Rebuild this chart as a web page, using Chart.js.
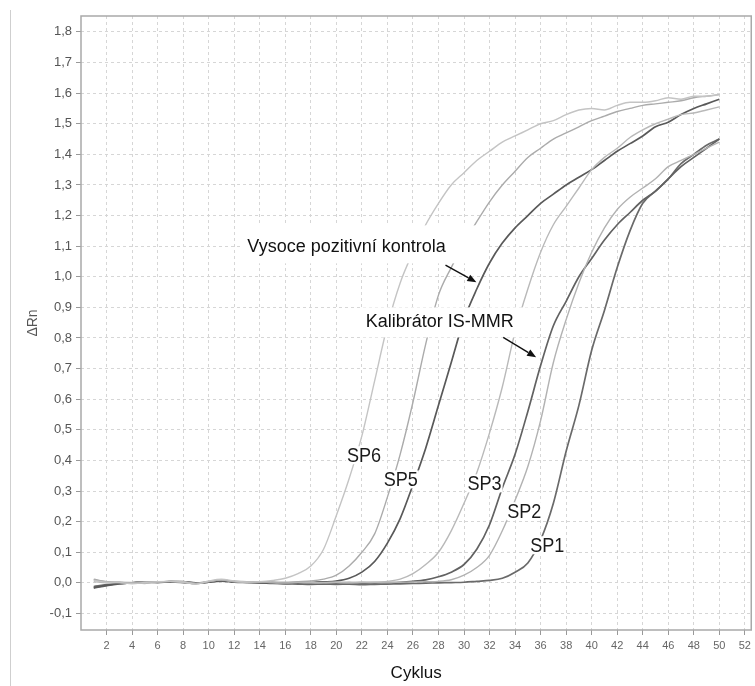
<!DOCTYPE html>
<html><head><meta charset="utf-8">
<script src="https://cdn.jsdelivr.net/npm/chart.js@4.4.1/dist/chart.umd.min.js"></script>
<style>
html,body{margin:0;padding:0;background:#fff;}
#wrap{position:relative;width:755px;height:686px;overflow:hidden;}
#sep{position:absolute;left:10px;top:10px;width:0;height:676px;border-left:1px solid #cfcfcf;}
#c{position:absolute;left:0;top:0;}
</style></head><body>
<div id="wrap"><div id="sep"></div><canvas id="c" width="755" height="686"></canvas></div>
<script>
const cycles = [1,2,3,4,5,6,7,8,9,10,11,12,13,14,15,16,17,18,19,20,21,22,23,24,25,26,27,28,29,30,31,32,33,34,35,36,37,38,39,40,41,42,43,44,45,46,47,48,49,50];

const sp6 = [0.008,0.002,0.001,-0.003,0.001,0.004,0.005,0.003,-0.004,0.006,0.012,0.006,0.003,0.004,0.008,0.015,0.03,0.055,0.11,0.22,0.34,0.48,0.66,0.84,0.98,1.08,1.17,1.24,1.30,1.34,1.38,1.41,1.44,1.46,1.48,1.50,1.51,1.53,1.545,1.55,1.545,1.56,1.57,1.57,1.575,1.585,1.58,1.59,1.59,1.595];
const sp5 = [0.012,0.004,0.002,-0.001,0.003,0.002,0.006,0.004,-0.002,0.004,0.010,0.005,0.004,0.002,0.003,0.002,0.004,0.006,0.012,0.025,0.055,0.10,0.16,0.28,0.42,0.59,0.78,0.94,1.03,1.11,1.18,1.245,1.30,1.345,1.39,1.42,1.45,1.47,1.49,1.51,1.525,1.54,1.55,1.56,1.565,1.57,1.575,1.585,1.59,1.595];
const hpc = [-0.015,-0.008,-0.002,0.0,0.003,0.001,0.004,0.003,0.0,0.003,0.007,0.004,0.002,0.001,0.0,-0.002,0.0,0.001,0.003,0.006,0.015,0.035,0.07,0.13,0.21,0.32,0.44,0.58,0.72,0.86,0.96,1.045,1.11,1.16,1.20,1.24,1.27,1.30,1.325,1.35,1.38,1.41,1.435,1.46,1.49,1.505,1.53,1.55,1.565,1.58];
const sp3 = [0.004,0.0,0.002,0.001,-0.002,0.003,0.005,0.002,-0.003,0.005,0.009,0.004,0.002,0.003,0.001,0.0,0.002,0.001,0.0,0.002,0.001,0.003,0.002,0.005,0.012,0.03,0.06,0.10,0.17,0.26,0.36,0.49,0.64,0.82,0.96,1.08,1.17,1.23,1.29,1.35,1.39,1.42,1.455,1.48,1.50,1.515,1.53,1.535,1.545,1.555];
const ismmr = [-0.017,-0.009,-0.003,0.0,0.002,0.002,0.003,0.004,-0.001,0.002,0.008,0.003,0.002,0.001,0.0,-0.001,0.0,-0.002,-0.001,0.0,0.001,-0.001,0.0,0.001,0.002,0.005,0.01,0.02,0.035,0.06,0.11,0.19,0.31,0.42,0.56,0.71,0.84,0.92,1.00,1.06,1.12,1.17,1.21,1.25,1.28,1.32,1.36,1.39,1.42,1.45];
const sp2 = [0.01,0.004,0.001,0.0,0.002,0.003,0.004,0.002,-0.002,0.004,0.01,0.004,0.003,0.002,0.001,0.0,0.001,0.0,0.001,0.002,0.0,0.001,0.002,0.001,0.002,0.003,0.004,0.005,0.01,0.025,0.05,0.09,0.17,0.27,0.38,0.53,0.72,0.86,0.98,1.08,1.16,1.22,1.26,1.29,1.32,1.36,1.38,1.40,1.42,1.44];
const sp1 = [-0.012,-0.006,-0.002,0.0,0.001,0.002,0.003,0.001,-0.002,0.002,0.006,0.002,0.001,0.0,-0.002,-0.003,-0.004,-0.005,-0.004,-0.005,-0.004,-0.006,-0.005,-0.004,-0.003,-0.002,-0.001,0.0,0.001,0.002,0.005,0.008,0.015,0.035,0.065,0.14,0.26,0.43,0.58,0.76,0.89,1.03,1.15,1.24,1.28,1.32,1.37,1.40,1.43,1.45];

const xTickValues = [2,4,6,8,10,12,14,16,18,20,22,24,26,28,30,32,34,36,38,40,42,44,46,48,50,52];
const yTickValues = [-0.1,0.0,0.1,0.2,0.3,0.4,0.5,0.6,0.7,0.8,0.9,1.0,1.1,1.2,1.3,1.4,1.5,1.6,1.7,1.8];
const yTickLabels = ['-0,1','0,0','0,1','0,2','0,3','0,4','0,5','0,6','0,7','0,8','0,9','1,0','1,1','1,2','1,3','1,4','1,5','1,6','1,7','1,8'];

const xTitle = 'Cyklus';
const yTitle = '\u0394Rn';
const calloutTexts = ['Vysoce pozitivn\u00ed kontrola', 'Kalibr\u00e1tor IS-MMR'];
const spLabels = ['SP6','SP5','SP3','SP2','SP1'];

function pts(vals){ return cycles.map((c,i)=>({x:c,y:vals[i]})); }

const series = [
  {label:'SP6', vals:sp6, color:'#c4c4c4', w:1.4},
  {label:'SP5', vals:sp5, color:'#ababab', w:1.4},
  {label:'SP3', vals:sp3, color:'#b9b9b9', w:1.4},
  {label:'SP2', vals:sp2, color:'#b2b2b2', w:1.4},
  {label:'Vysoce pozitivn\u00ed kontrola', vals:hpc, color:'#595959', w:1.7},
  {label:'Kalibr\u00e1tor IS-MMR', vals:ismmr, color:'#626262', w:1.7},
  {label:'SP1', vals:sp1, color:'#6a6a6a', w:1.7}
];

function drawArrow(ctx, x1, y1, x2, y2){
  ctx.save();
  ctx.strokeStyle = '#111'; ctx.fillStyle = '#111'; ctx.lineWidth = 1.4;
  const ang = Math.atan2(y2-y1, x2-x1);
  const hl = 9, hw = 3.6;
  const bx = x2 - hl*Math.cos(ang), by = y2 - hl*Math.sin(ang);
  ctx.beginPath(); ctx.moveTo(x1,y1); ctx.lineTo(bx,by); ctx.stroke();
  ctx.beginPath();
  ctx.moveTo(x2,y2);
  ctx.lineTo(bx + hw*Math.sin(ang), by - hw*Math.cos(ang));
  ctx.lineTo(bx - hw*Math.sin(ang), by + hw*Math.cos(ang));
  ctx.closePath(); ctx.fill();
  ctx.restore();
}

const framePlugin = {
  id:'frame',
  beforeDatasetsDraw(chart){
    const {ctx, chartArea:a} = chart;
    ctx.save();
    ctx.strokeStyle = '#a9a9a9'; ctx.lineWidth = 1.5;
    ctx.strokeRect(a.left, a.top, a.right - a.left, a.bottom - a.top);
    ctx.restore();
  }
};

const annotPlugin = {
  id:'annot',
  afterDatasetsDraw(chart){
    const {ctx, scales:{x, y}} = chart;
    ctx.save();
    const boxes = [
      {text:calloutTexts[0], bx0:12.64, bx1:31.9, by0:1.168, by1:1.044, tx:13.03, ty:1.096, a:[28.55,1.038,30.97,0.982]},
      {text:calloutTexts[1], bx0:21.92, bx1:35.65, by0:0.900, by1:0.802, tx:22.31, ty:0.851, a:[33.07,0.802,35.65,0.737]}
    ];
    ctx.font = '18px "Liberation Sans", Arial, sans-serif';
    ctx.textBaseline = 'middle';
    boxes.forEach(b=>{
      const l = x.getPixelForValue(b.bx0), r = x.getPixelForValue(b.bx1);
      const t = y.getPixelForValue(b.by0), btm = y.getPixelForValue(b.by1);
      ctx.fillStyle = '#fff';
      ctx.fillRect(l, t, r-l, btm-t);
      ctx.fillStyle = '#111';
      ctx.fillText(b.text, x.getPixelForValue(b.tx), y.getPixelForValue(b.ty));
      drawArrow(ctx, x.getPixelForValue(b.a[0]), y.getPixelForValue(b.a[1]), x.getPixelForValue(b.a[2]), y.getPixelForValue(b.a[3]));
    });
    const spPos = [[20.83,0.417],[23.71,0.338],[30.27,0.325],[33.39,0.234],[35.18,0.123]];
    ctx.font = '21px "Liberation Sans", Arial, sans-serif';
    const sx = 0.86;
    spLabels.forEach((t,i)=>{
      const px = x.getPixelForValue(spPos[i][0]), py = y.getPixelForValue(spPos[i][1]);
      const w = ctx.measureText(t).width * sx;
      ctx.fillStyle = '#fff';
      ctx.fillRect(px-1, py-9, w+2, 18);
      ctx.save();
      ctx.translate(px, py);
      ctx.scale(sx, 1);
      ctx.fillStyle = '#1a1a1a';
      ctx.fillText(t, 0, 1);
      ctx.restore();
    });
    ctx.restore();
  }
};

const chart = new Chart(document.getElementById('c'), {
  type:'line',
  data:{
    datasets: series.map(s=>({
      label:s.label, data:pts(s.vals), borderColor:s.color, borderWidth:s.w,
      pointRadius:0, fill:false, cubicInterpolationMode:'monotone'
    }))
  },
  options:{
    responsive:false, animation:false,
    layout:{padding:{top:16, right:1, left:0, bottom:0}},
    plugins:{legend:{display:false}, tooltip:{enabled:false}},
    scales:{
      x:{
        type:'linear', min:0, max:52.5,
        afterFit(s){ s.height = 56; },
        afterBuildTicks(s){ s.ticks = xTickValues.map(v=>({value:v})); },
        grid:{color:'#d6d6d6', lineWidth:1, tickLength:5, tickColor:'#999', tickBorderDash:[]},
        border:{display:false, dash:[3,3]},
        ticks:{color:'#666', padding:4, maxRotation:0, autoSkip:false,
          font:{family:'"Liberation Sans Narrow", "Arial Narrow", "Liberation Sans", Arial', size:11},
          callback:(v)=>String(v)},
        title:{display:true, text:xTitle, color:'#111', padding:{top:0,bottom:2},
          font:{family:'"Liberation Sans", Arial', size:17}}
      },
      y:{
        type:'linear', min:-0.154, max:1.852,
        afterFit(s){ s.width = 81; },
        afterBuildTicks(s){ s.ticks = yTickValues.map(v=>({value:v})); },
        grid:{color:'#d6d6d6', lineWidth:1, tickLength:5, tickColor:'#999', tickBorderDash:[]},
        border:{display:false, dash:[3,3]},
        ticks:{color:'#555', padding:4,
          font:{family:'"Liberation Sans", Arial', size:13},
          callback:(v)=>{ const i = yTickValues.findIndex(t=>Math.abs(t-v)<1e-6); return i>=0 ? yTickLabels[i] : ''; }},
        title:{display:true, text:yTitle, color:'#555', padding:{top:25,bottom:0},
          font:{family:'"Liberation Sans", Arial', size:14}}
      }
    }
  },
  plugins:[framePlugin, annotPlugin]
});
</script>
</body></html>
